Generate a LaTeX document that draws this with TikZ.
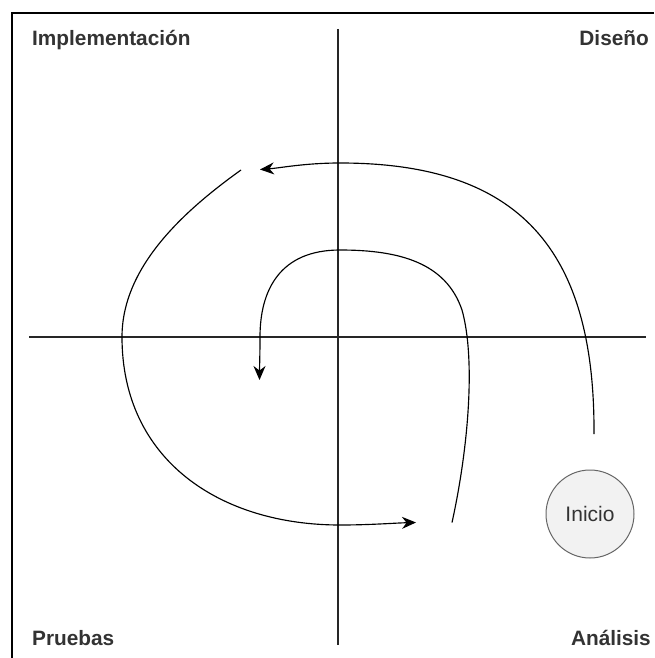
\documentclass[tikz,border=0pt]{standalone}
\usepackage{fontspec}
\setmainfont{Liberation Sans}
\usetikzlibrary{arrows.meta}
\begin{document}
\begin{tikzpicture}[x=1pt,y=-1pt,
  frame/.style={line width=1.6pt, black},
  axis/.style={line width=1.3pt, black!85},
  flow/.style={line width=1.15pt, black, -{Stealth[length=14pt,width=12pt]}},
  quad/.style={font=\fontsize{20.8}{24}\selectfont\bfseries, text=black!80, inner sep=0pt},
  startnode/.style={circle, draw=black!60, fill=black!5, line width=1pt, minimum size=88pt, inner sep=0pt, font=\fontsize{21}{24}\selectfont, text=black!80}]
\useasboundingbox (0,0) rectangle (654,658);
% frame
\coordinate (frTR) at (654,13);
\coordinate (frTL) at (12,13);
\coordinate (frBL) at (12,658);
\draw[frame] (frTR) -- (frTL) -- (frBL);
% axes
\coordinate (axL) at (29,337);
\coordinate (axR) at (646,337);
\coordinate (axT) at (338,29);
\coordinate (axB) at (338,645);
\draw[axis] (axL) -- (axR);
\draw[axis] (axT) -- (axB);
% labels
\node[quad, anchor=base west] (impl) at (32,46) {Implementación};
\node[quad, anchor=base east] (dis) at (649,46) {Diseño};
\node[quad, anchor=base west] (pru) at (32,645) {Pruebas};
\node[quad, anchor=base east] (ana) at (651,645) {Análisis};
% start
\node[startnode] (inicio) at (590,514) {Inicio};
% spiral pieces
\coordinate (s1a) at (594,434);
\coordinate (s1b) at (260,169.5);
\draw[flow] (s1a) .. controls (595,250) and (520,163) .. (340,163)
  .. controls (305,163) and (280,168) .. (s1b);
\coordinate (s2a) at (241,170);
\coordinate (s2b) at (416,522.5);
\draw[flow] (s2a) .. controls (178,215) and (122,270) .. (122,337)
  .. controls (122,460) and (220,525) .. (340,525)
  .. controls (370,525) and (395,523) .. (s2b);
\coordinate (s3a) at (452,522.5);
\coordinate (s3b) at (259.5,380);
\draw[flow] (s3a) .. controls (468,450) and (476,360) .. (462,310)
  .. controls (446,263) and (400,250) .. (340,250)
  .. controls (280,250) and (260,290) .. (260,337)
  .. controls (260,355) and (259.5,368) .. (s3b);
\end{tikzpicture}
\end{document}
